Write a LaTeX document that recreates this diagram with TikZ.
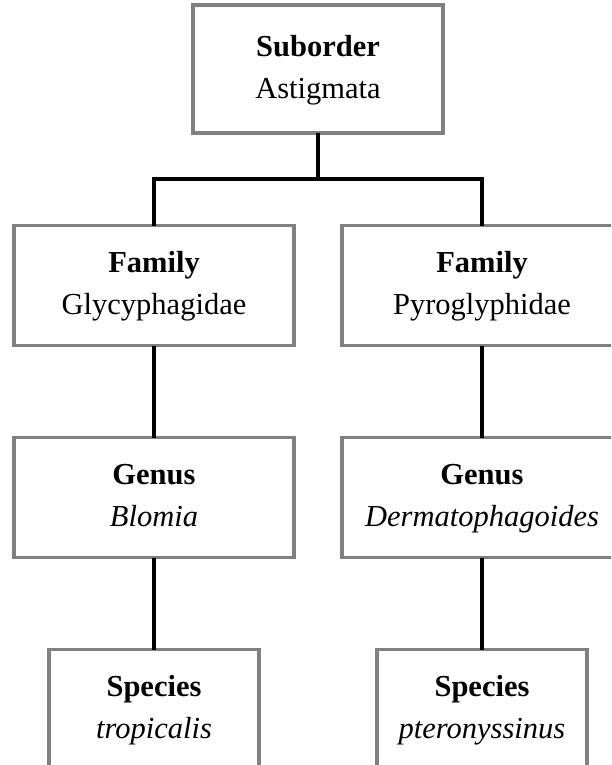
\documentclass[tikz,border=0pt]{standalone}
\usepackage{fontspec}
\setmainfont{Liberation Serif}
\usetikzlibrary{positioning}
\definecolor{BoxGray}{RGB}{128,128,128}

\begin{document}
\begin{tikzpicture}[x=1pt, y=-1pt, node distance=92pt,
  every node/.style={font=\fontsize{30.5}{42}\selectfont, align=center},
  taxon/.style={draw=BoxGray, line width=3.5pt, fill=white, inner sep=0pt, outer sep=0pt, minimum height=120pt},
  link/.style={line width=3.5pt, black, line join=miter}]
\useasboundingbox (0,0) rectangle (611,765);
\clip (0,0) rectangle (611,765);
\node[taxon, minimum width=250pt, minimum height=128pt] (sub) at (318,69) {\strut\textbf{Suborder}\\Astigmata\strut};
\node[taxon, minimum width=280pt] (famL) at (154,285.5) {\strut\textbf{Family}\\Glycyphagidae\strut};
\node[taxon, minimum width=280pt, right=48pt of famL] (famR) {\strut\textbf{Family}\\Pyroglyphidae\strut};
\node[taxon, minimum width=280pt, below=of famL] (genL) {\strut\textbf{Genus}\\\textit{Blomia}\strut};
\node[taxon, minimum width=280pt, below=of famR] (genR) {\strut\textbf{Genus}\\\textit{Dermatophagoides}\strut};
\node[taxon, minimum width=210pt, below=of genL] (spL) {\strut\textbf{Species}\\\textit{tropicalis}\strut};
\node[taxon, minimum width=210pt, below=of genR] (spR) {\strut\textbf{Species}\\\textit{pteronyssinus}\strut};
\coordinate (bar) at (318,179);

\draw[link] (sub) -- (bar);
\draw[link] (famL) |- (bar) -| (famR);
\draw[link] (famL) -- (genL);
\draw[link] (famR) -- (genR);
\draw[link] (genL) -- (spL);
\draw[link] (genR) -- (spR);
\end{tikzpicture}
\end{document}
